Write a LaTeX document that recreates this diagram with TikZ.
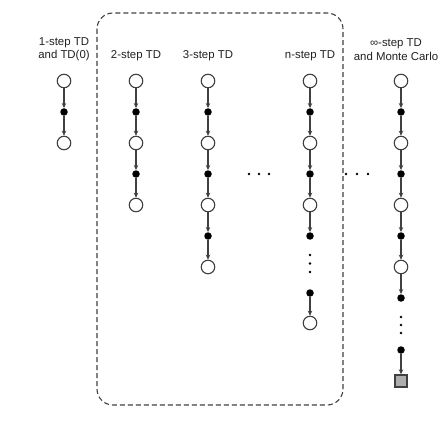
\documentclass[tikz,border=0pt]{standalone}
\usepackage{fontspec}
\setmainfont{Liberation Sans}
\usetikzlibrary{arrows.meta}
\definecolor{linegray}{HTML}{404040}
\definecolor{textgray}{HTML}{202020}
\definecolor{termfill}{HTML}{AEAEAE}
\begin{document}
\begin{tikzpicture}[x=1pt,y=-1pt,
  state/.style={circle, draw=linegray, line width=1.1pt, fill=white, minimum size=13.5pt, inner sep=0pt},
  action/.style={circle, fill=black, minimum size=7.5pt, inner sep=0pt},
  terminal/.style={rectangle, draw=black!75, line width=1.4pt, fill=termfill, minimum size=12pt, inner sep=0pt},
  tiny/.style={circle, fill=black, minimum size=2.6pt, inner sep=0pt},
  flow/.style={draw=linegray, line width=1.1pt, -{Stealth[length=5pt,width=4.5pt]}},
  label/.style={font=\fontsize{11.4}{13.5}\selectfont, text=textgray, align=center, inner sep=0pt},
  group/.style={draw=linegray, line width=1.1pt, dash pattern=on 5pt off 3pt, rounded corners=16pt}
]
\useasboundingbox (0,0) rectangle (441,422);

% dashed group around the n-step methods
\draw[group] (97,13) rectangle (343,405);

% column titles
\node[label] (t1) at (64,49.5) {1-step TD\\and TD(0)};
\node[label] (t2) at (136,56) {2-step TD};
\node[label] (t3) at (208,56) {3-step TD};
\node[label] (tn) at (310,56) {n-step TD};
\node[label] (tinf) at (396,49.5) {∞-step TD\\and Monte Carlo};

% 1-step TD
\node[state]  (a1) at (64,81) {};
\node[action] (a2) at (64,112) {};
\node[state]  (a3) at (64,143) {};
\draw[flow] (a1) -- (a2);
\draw[flow] (a2) -- (a3);

% 2-step TD
\node[state]  (b1) at (136,81) {};
\node[action] (b2) at (136,112) {};
\node[state]  (b3) at (136,143) {};
\node[action] (b4) at (136,174) {};
\node[state]  (b5) at (136,205) {};
\foreach \i/\j in {1/2,2/3,3/4,4/5} \draw[flow] (b\i) -- (b\j);

% 3-step TD
\node[state]  (c1) at (208,81) {};
\node[action] (c2) at (208,112) {};
\node[state]  (c3) at (208,143) {};
\node[action] (c4) at (208,174) {};
\node[state]  (c5) at (208,205) {};
\node[action] (c6) at (208,236) {};
\node[state]  (c7) at (208,267) {};
\foreach \i/\j in {1/2,2/3,3/4,4/5,5/6,6/7} \draw[flow] (c\i) -- (c\j);

% n-step TD
\node[state]  (n1) at (310,81) {};
\node[action] (n2) at (310,112) {};
\node[state]  (n3) at (310,143) {};
\node[action] (n4) at (310,174) {};
\node[state]  (n5) at (310,205) {};
\node[action] (n6) at (310,236) {};
\node[tiny]   (nv1) at (310,255) {};
\node[tiny]   (nv2) at (310,263.5) {};
\node[tiny]   (nv3) at (310,272) {};
\node[action] (n7) at (310,293) {};
\node[state]  (n8) at (310,323) {};
\foreach \i/\j in {1/2,2/3,3/4,4/5,5/6,7/8} \draw[flow] (n\i) -- (n\j);

% infinite-step TD / Monte Carlo
\node[state]  (m1) at (401,81) {};
\node[action] (m2) at (401,112) {};
\node[state]  (m3) at (401,143) {};
\node[action] (m4) at (401,174) {};
\node[state]  (m5) at (401,205) {};
\node[action] (m6) at (401,236) {};
\node[state]  (m7) at (401,267) {};
\node[action] (m8) at (401,298) {};
\node[tiny]   (mv1) at (401,317) {};
\node[tiny]   (mv2) at (401,325) {};
\node[tiny]   (mv3) at (401,333) {};
\node[action] (m9) at (401,350) {};
\node[terminal] (m10) at (401,381) {};
\foreach \i/\j in {1/2,2/3,3/4,4/5,5/6,6/7,7/8,9/10} \draw[flow] (m\i) -- (m\j);

% horizontal ellipses between columns
\node[tiny] (h1) at (249,174) {};
\node[tiny] (h2) at (259,174) {};
\node[tiny] (h3) at (269,174) {};
\node[tiny] (h4) at (346,174) {};
\node[tiny] (h5) at (357,174) {};
\node[tiny] (h6) at (368,174) {};
\end{tikzpicture}
\end{document}
